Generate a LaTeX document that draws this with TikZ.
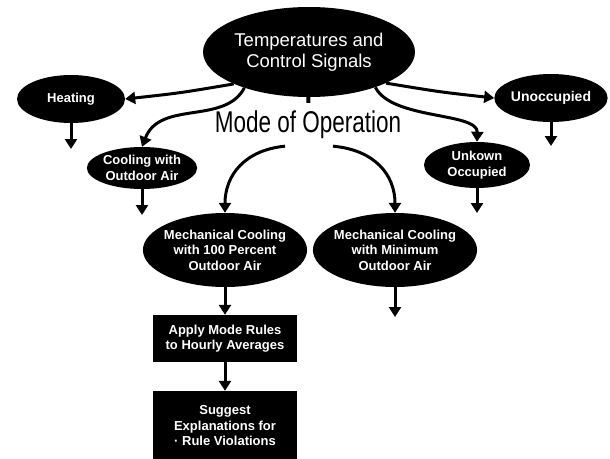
\documentclass[tikz,border=0pt]{standalone}
\usepackage{fontspec}
\setmainfont{Liberation Sans}
\usetikzlibrary{shapes.geometric,arrows.meta}
\begin{document}
\begin{tikzpicture}
  [x=1pt,y=-1pt,every node/.style={ellipse,fill=black,text=white,inner sep=0pt,align=center,font=\bfseries\fontsize{13}{15.5}\selectfont}]
  \tikzstyle{arr} = [line width=3pt,-{Triangle[length=10pt,width=12pt]}]
  \tikzstyle{box} = [rectangle,minimum width=144pt]
  \useasboundingbox (0,0) rectangle (610,458);
  \node[minimum width=212pt,minimum height=90pt,font=\fontsize{18.5}{21}\selectfont] (temp) at (309,52) {Temperatures and\\Control Signals};
  \node[minimum width=108pt,minimum height=48pt] (heat) at (71,99) {Heating};
  \node[minimum width=108pt,minimum height=48pt,font=\bfseries\fontsize{14}{15.5}\selectfont] (unocc) at (551,98) {Unoccupied};
  \node[minimum width=108pt,minimum height=42pt] (cool) at (142,168) {Cooling with\\Outdoor Air};
  \node[minimum width=106pt,minimum height=46pt] (unk) at (477,165) {Unkown\\Occupied};
  \node[minimum width=164pt,minimum height=74pt,inner xsep=-3pt] (mech1) at (225,250) {Mechanical Cooling\\with 100 Percent\\Outdoor Air};
  \node[minimum width=164pt,minimum height=74pt,inner xsep=-3pt] (mech2) at (395,250) {Mechanical Cooling\\with Minimum\\Outdoor Air};
  \node[box,minimum height=47pt] (rules) at (225,338.5) {Apply Mode Rules\\to Hourly Averages};
  \node[box,minimum height=70pt] (expl) at (225,426) {Suggest\\Explanations for\\· Rule Violations};

  \coordinate (heatout) at (71,149);
  \coordinate (coolout) at (142,215);
  \coordinate (unoccout) at (551,146);
  \coordinate (unkout) at (477,213);
  \coordinate (mech2out) at (395,317);

  \draw[arr] (temp.203) .. controls (180,93) .. (heat.east);
  \draw[arr] (temp.-22) .. controls (440,92) .. (unocc.west);
  \draw[arr] (temp.209) .. controls (225,125) and (160,100) .. (cool.north);
  \draw[arr] (temp.-28) .. controls (392,120) and (478,112) .. (unk.north);

  \node[rectangle,fill=white,text=black,font=\fontsize{30}{30}\selectfont,xscale=0.75,inner sep=1pt] (mode) at (308,125) {Mode of Operation};
  \draw[line width=4pt,shorten >=7pt] (temp) -- (mode);
  \draw[arr] ([xshift=-23pt,yshift=-6pt]mode.south) .. controls (245,150) and (225,175) .. (mech1.north);
  \draw[arr] ([xshift=25pt,yshift=-6pt]mode.south) .. controls (375,150) and (395,175) .. (mech2.north);

\foreach \source /\dest in {heat/heatout,cool/coolout,unocc/unoccout,unk/unkout,mech2/mech2out,mech1/rules,rules/expl}
   \draw[arr] (\source) -- (\dest);
\end{tikzpicture}
\end{document}
